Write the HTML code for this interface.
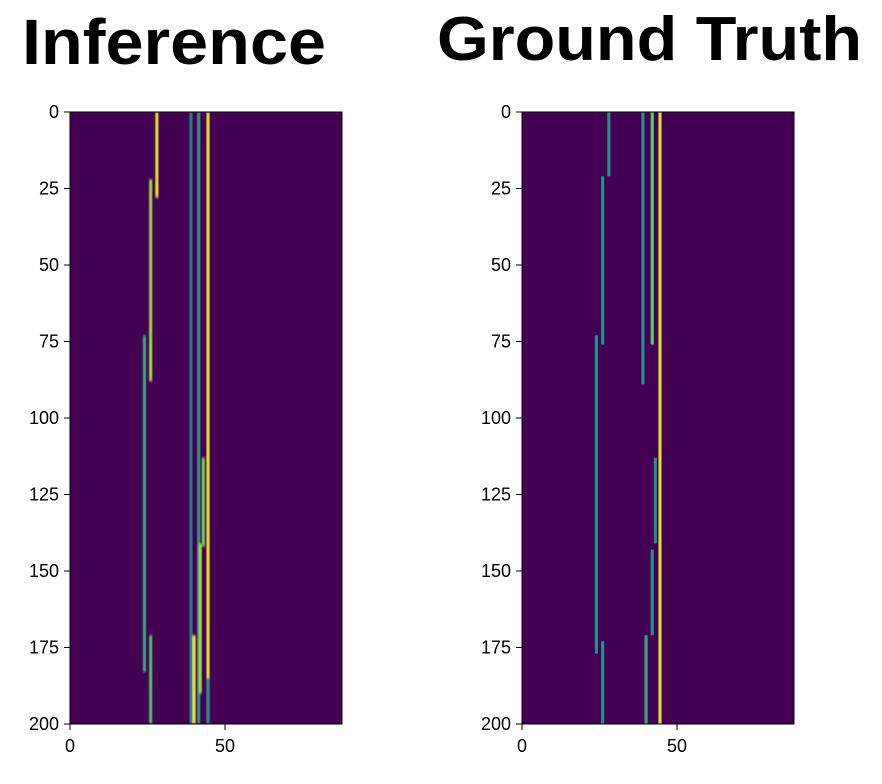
<!DOCTYPE html>
<html><head><meta charset="utf-8"><style>
body{margin:0;background:#fff;}
svg{display:block;font-family:"Liberation Sans",sans-serif;}
</style></head><body>
<svg id="s" width="882" height="784">
<defs><filter id="blur" x="-50%" y="-5%" width="200%" height="110%"><feGaussianBlur stdDeviation="0.5 1.2"/></filter></defs>
<text x="22" y="64" font-size="64" font-weight="bold" textLength="304" lengthAdjust="spacingAndGlyphs">Inference</text>
<text x="437" y="60" font-size="62" font-weight="bold" textLength="425" lengthAdjust="spacingAndGlyphs">Ground Truth</text>
</svg>
<script>
// segments: [column, startRow, endRow, value(0..1)]
const infCols   = [28, 26, 24, 26, 39, 41.5, 44.5, 43, 42, 40, 44.5];
const infStart  = [0, 22, 73, 171, 0, 0, 0, 113, 141, 171, 185];
const infEnd    = [28, 88, 183, 200, 200, 200, 200, 142, 190, 200, 200];
const infVals   = [0.95, 0.85, 0.6, 0.7, 0.42, 0.55, 0.97, 0.78, 0.85, 0.97, 0.5];
const gtCols    = [28, 26, 24, 26, 39, 42, 44.5, 43, 42, 40];
const gtStart   = [0, 21, 73, 173, 0, 0, 0, 113, 143, 171];
const gtEnd     = [21, 76, 177, 200, 89, 76, 200, 141, 171, 200];
const gtVals    = [0.5, 0.5, 0.5, 0.5, 0.5, 0.75, 0.95, 0.5, 0.5, 0.6];
const yTicks = [0,25,50,75,100,125,150,175,200];
const xTicks = [0,50];

const NS="http://www.w3.org/2000/svg";
const svg=document.getElementById('s');
const stops=[[68,1,84],[59,82,139],[33,145,140],[94,201,98],[253,231,37]];
function viridis(v){v=Math.max(0,Math.min(1,v))*4;const i=Math.min(3,Math.floor(v)),f=v-i;const a=stops[i],b=stops[i+1];
return 'rgb('+a.map((c,k)=>Math.round(c+(b[k]-c)*f)).join(',')+')';}
function mk(tag,attrs,parent){const e=document.createElementNS(NS,tag);for(const k in attrs)e.setAttribute(k,attrs[k]);(parent||svg).appendChild(e);return e;}

function panel(x0,cols,starts,ends,vals,blur,name){
  const y0=112,w=272,h=612,sx=3.1,sy=h/200;
  const X=c=>x0+c*sx, Y=r=>y0+r*sy;
  const g=mk('g',{});
  
  
  const bg=mk('rect',{x:x0,y:y0,width:w,height:h,fill:'#440154'},g);
  
  
  const clip='clip'+name;const cp=mk('clipPath',{id:clip},g);mk('rect',{x:x0,y:y0,width:w,height:h},cp);
  const lg=mk('g',{'clip-path':'url(#'+clip+')'},g);
  const inner=blur?mk('g',{filter:'url(#blur)'},lg):lg;
  for(let i=0;i<cols.length;i++){
    const r=mk('rect',{x:X(cols[i])-1.5,y:Y(starts[i]),width:3.1,height:Y(ends[i])-Y(starts[i]),fill:viridis(vals[i])},inner);
    
    
  }
  mk('rect',{x:x0,y:y0,width:w,height:h,fill:'none',stroke:'#000','stroke-width':1},g);
  yTicks.forEach(t=>{
    mk('line',{x1:x0-6,x2:x0,y1:Y(t),y2:Y(t),stroke:'#000','stroke-width':1},g);
    const tx=mk('text',{x:x0-11,y:Y(t)+6,'font-size':18,'text-anchor':'end'},g);tx.textContent=t;
    
    
  });
  xTicks.forEach(t=>{
    mk('line',{x1:X(t),x2:X(t),y1:y0+h,y2:y0+h+6,stroke:'#000','stroke-width':1},g);
    const tx=mk('text',{x:X(t),y:y0+h+28,'font-size':18,'text-anchor':'middle'},g);tx.textContent=t;
    
    
  });
}
panel(70,infCols,infStart,infEnd,infVals,true,'inference-panel');
panel(522,gtCols,gtStart,gtEnd,gtVals,false,'ground-truth-panel');
</script>
</body></html>
